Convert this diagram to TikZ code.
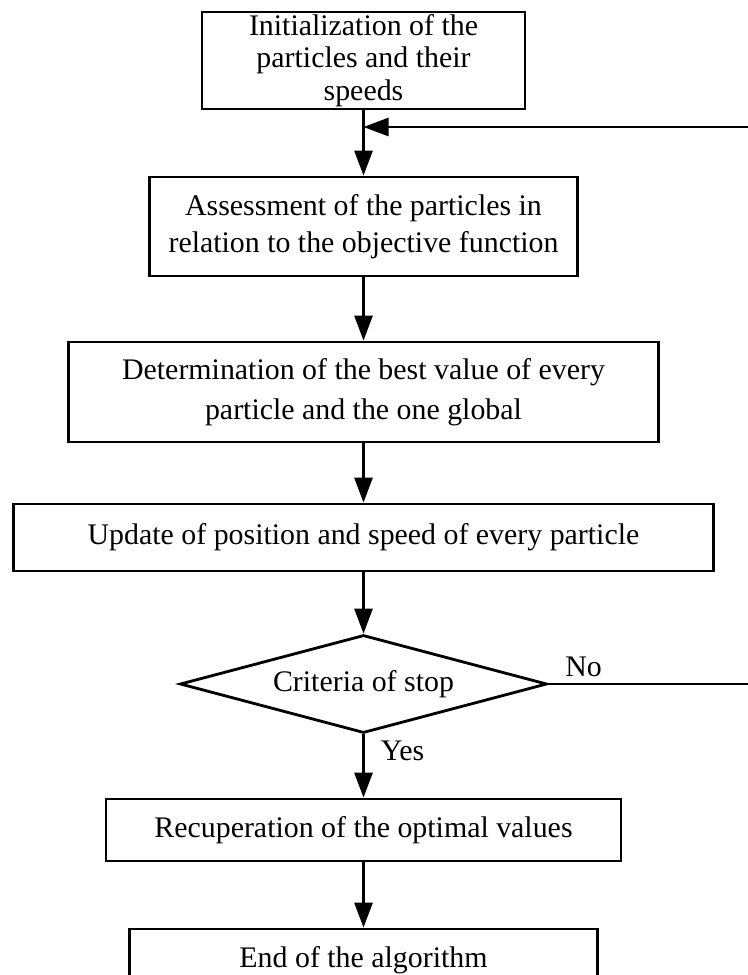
\documentclass[tikz,border=0pt]{standalone}
\usepackage{fontspec}
\setmainfont{Liberation Serif}
\usetikzlibrary{arrows.meta, shapes.geometric}

\begin{document}
\begin{tikzpicture}[> = {Triangle[length = 0.5cm, width = 0.36cm]}, line width = 1.6pt]

	% Styles
	
	\tikzset{
		block/.style = {draw, rectangle, align = center, inner sep = 0pt, font = \fontsize{17}{21}\selectfont},
		test/.style = {draw, diamond, aspect = 3.745, inner sep = 0pt, minimum width = 7.34cm, minimum height = 1.96cm, font = \fontsize{17}{21}\selectfont},
		tag/.style = {font = \fontsize{17}{21}\selectfont}
	}
	
	% Centre line of the chart
	
	\def\X{7.27}
	
	\useasboundingbox (0, 0) rectangle (14.94, -19.5);
	
	% The steps
	
	\node [block, minimum width = 6.46cm, minimum height = 1.94cm, font = \fontsize{17}{18.5}\selectfont] (init) at (\X, -1.21) {Initialization of the\\particles and their\\speeds};
	\node [block, minimum width = 8.56cm, minimum height = 1.98cm] (assess) at (\X, -4.53) {Assessment of the particles in\\relation to the objective function};
	\node [block, minimum width = 11.8cm, minimum height = 2cm, font = \fontsize{17}{23}\selectfont] (best) at (\X, -7.84) {Determination of the best value of every\\particle and the one global};
	\node [block, minimum width = 14cm, minimum height = 1.34cm] (update) at (\X, -10.75) {Update of position and speed of every particle};
	\node [test] (stop) at (\X, -13.68) {Criteria of stop};
	\node [block, minimum width = 10.3cm, minimum height = 1.24cm] (recup) at (\X, -16.6) {Recuperation of the optimal values};
	\node [block, minimum width = 9.36cm, minimum height = 1.24cm] (finish) at (\X, -19.2) {End of the algorithm};
	
	% Loose ends at the right border
	
	\coordinate (back) at (15.1, -2.54);
	\coordinate (out) at (15.1, -13.68);
	
	% Arrows down the chart
	
	\begin{scope}[->]
	
		\draw (init) -- (assess);
		\draw (assess) -- (best);
		\draw (best) -- (update);
		\draw (update) -- (stop);
		\draw (stop) -- node [tag, right = 0.2cm, pos = 0.26] (yes) {Yes} (recup);
		\draw (recup) -- (finish);
		
		% Loop back
		
		\draw (back) -- (back -| init);
		
	\end{scope}
	
	\draw (stop) -- node [tag, above, pos = 0.17] (no) {No} (out);
		
\end{tikzpicture}
\end{document}
